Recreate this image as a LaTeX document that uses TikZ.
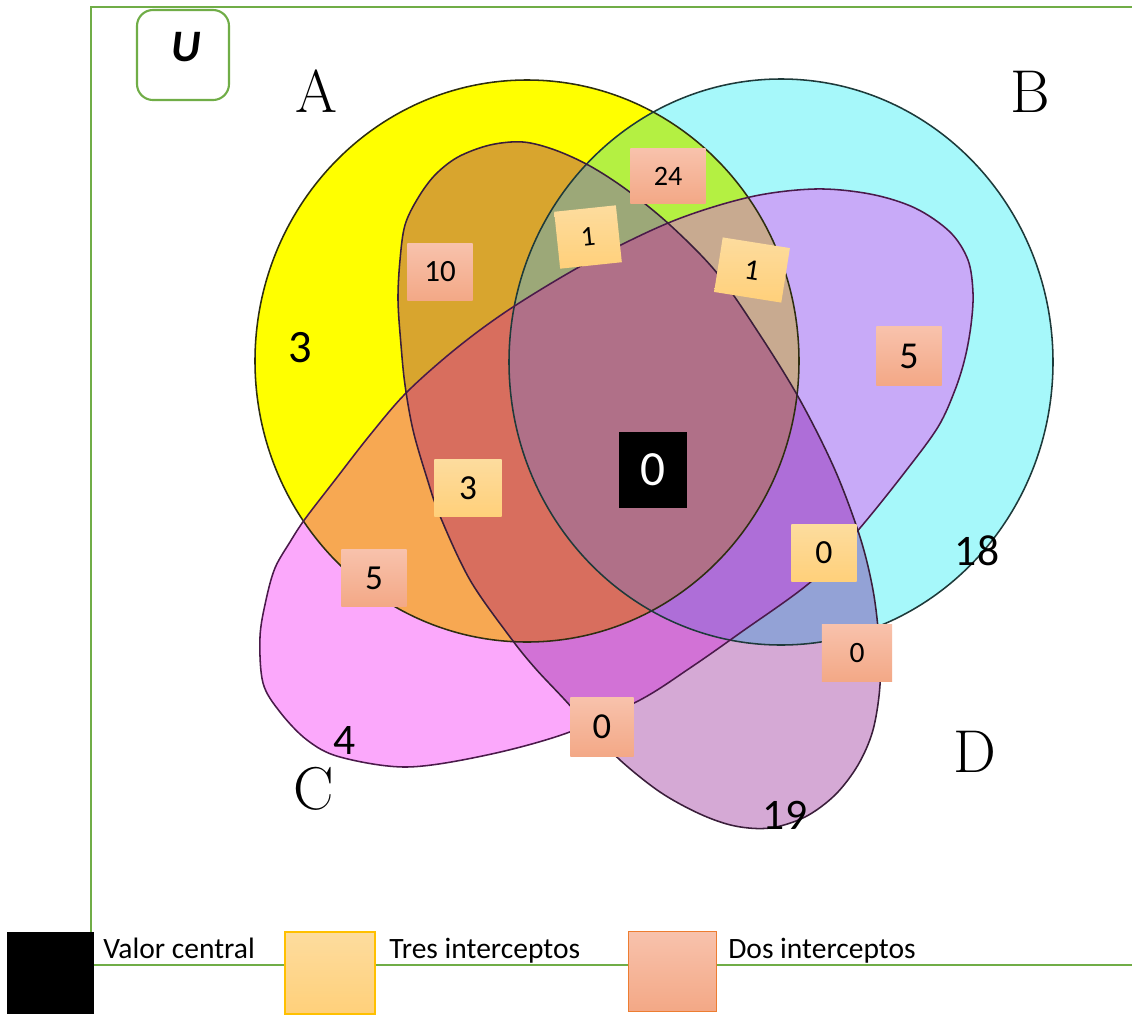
\documentclass[tikz,border=0pt]{standalone}
\usepackage{fontspec}
\newfontfamily\calf{Carlito}
\definecolor{cA}{HTML}{FFFF00}
\definecolor{cB}{HTML}{A6F8FA}
\definecolor{cC}{HTML}{FBA8FB}
\definecolor{cD}{HTML}{D5A9D5}
\definecolor{cAB}{HTML}{B4F042}
\definecolor{cAC}{HTML}{F7A852}
\definecolor{cAD}{HTML}{D8A52E}
\definecolor{cBC}{HTML}{C8AAF8}
\definecolor{cBD}{HTML}{93A2D6}
\definecolor{cCD}{HTML}{D272D6}
\definecolor{cABC}{HTML}{C8AA90}
\definecolor{cABD}{HTML}{9CA878}
\definecolor{cACD}{HTML}{D86E5E}
\definecolor{cBCD}{HTML}{AE6ED8}
\definecolor{cABCD}{HTML}{B07088}
\definecolor{frm}{HTML}{70AD47}
\definecolor{lnA}{HTML}{2E2E10}
\definecolor{lnB}{HTML}{1E3A3A}
\definecolor{lnC}{HTML}{4A1A4A}
\definecolor{lnD}{HTML}{3A1E3A}
\definecolor{tresT}{HTML}{FDDC9E}
\definecolor{tresB}{HTML}{FFD07A}
\definecolor{dosT}{HTML}{F8C2AC}
\definecolor{dosB}{HTML}{F3A886}
\definecolor{tresL}{HTML}{FFC000}
\definecolor{dosL}{HTML}{ED7D31}
\def\pathA{(527,361) ellipse [x radius=272, y radius=281]}
\def\pathB{(781,362) ellipse [x radius=272, y radius=283]}
\def\pathC{plot[smooth cycle, tension=0.55] coordinates {(260,637) (266,600) (275,568) (290,542) (305,519) (335,480) (370,435) (407,392) (458,347) (513,307) (590,261) (673,221) (750,197) (815,189) (870,194) (915,208) (950,232) (968,260) (973,293) (971,325) (965,358) (955,390) (938,427) (905,472) (860,528) (813,580) (740,633) (690,668) (640,700) (567,733) (487,755) (407,767) (340,757) (307,740) (280,712) (263,683)}}
\def\pathD{plot[smooth cycle, tension=0.55] coordinates {(398,300) (400,260) (405,225) (418,198) (435,175) (458,157) (490,145) (523,142) (555,150) (590,166) (627,190) (670,225) (717,273) (760,335) (800,400) (835,470) (860,537) (873,590) (879,640) (880,685) (873,730) (858,765) (835,795) (805,817) (770,828) (735,826) (700,814) (660,792) (620,760) (590,728) (565,700) (535,668) (510,637) (470,580) (440,516) (426,475) (413,430) (405,385) (401,345)}}
\tikzset{
  outl/.style={line width=1.1pt},
  numbox/.style={rectangle, inner sep=0pt},
  tres/.style={numbox, top color=tresT, bottom color=tresB},
  dos/.style={numbox, top color=dosT, bottom color=dosB},
  lbl/.style={inner sep=0pt, font=\fontsize{43}{43}\selectfont},
  big/.style={inner sep=0pt, font=\calf\fontsize{31}{31}\selectfont},
  leg/.style={inner sep=0pt, anchor=base west, font=\calf\fontsize{21}{25}\selectfont}
}
\begin{document}
\begin{tikzpicture}[x=0.025cm,y=-0.025cm]
\useasboundingbox (0,0) rectangle (1132,1014);
\fill[white] (0,0) rectangle (1132,1014);
% base fills
\fill[cA] \pathA;
\fill[cB] \pathB;
\fill[cC] \pathC;
\fill[cD] \pathD;
% pairs
\begin{scope}\clip \pathA; \fill[cAB] \pathB; \fill[cAC] \pathC; \fill[cAD] \pathD; \end{scope}
\begin{scope}\clip \pathB; \fill[cBC] \pathC; \fill[cBD] \pathD; \end{scope}
\begin{scope}\clip \pathC; \fill[cCD] \pathD; \end{scope}
% triples
\begin{scope}\clip \pathA; \clip \pathB; \fill[cABC] \pathC; \fill[cABD] \pathD; \end{scope}
\begin{scope}\clip \pathA; \clip \pathC; \fill[cACD] \pathD; \end{scope}
\begin{scope}\clip \pathB; \clip \pathC; \fill[cBCD] \pathD; \end{scope}
% all four
\begin{scope}\clip \pathA; \clip \pathB; \clip \pathC; \fill[cABCD] \pathD; \end{scope}
% outlines
\draw[outl, lnA] \pathA;
\draw[outl, lnB] \pathB;
\draw[outl, lnC] \pathC;
\draw[outl, lnD] \pathD;
% frame
\draw[frm, line width=1.6pt] (1132,7) -- (91,7) -- (91,965);
\draw[frm, line width=1.6pt] (91,965) -- (1132,965);
% universe box
\node[draw=frm, line width=1.5pt, rounded corners=0.4cm, minimum width=2.3cm, minimum height=2.25cm] (ubox) at (183,55) {};
\node[inner sep=0pt, font=\calf\bfseries\itshape\fontsize{32}{32}\selectfont] (utext) at (186,47) {U};
% set labels
\node[lbl] (la) at (316,91) {A};
\node[lbl] (lb) at (1030,92) {B};
\node[lbl] (lc) at (314,789) {C};
\node[lbl] (ld) at (975,752) {D};
% single-set numbers
\node[big, font=\calf\fontsize{33}{33}\selectfont] (nA) at (300,348) {3};
\node[big] (nB) at (977,551) {18};
\node[big] (nC) at (345,740) {4};
\node[big] (nD) at (785,815) {19};
% boxes
\node[dos, minimum width=1.88cm, minimum height=1.38cm, font=\calf\fontsize{20}{20}\selectfont] (n24) at (668,176) {24};
\node[tres, rotate=6, minimum width=1.55cm, minimum height=1.43cm, font=\calf\fontsize{20}{20}\selectfont] (n1a) at (588,237) {1};
\node[tres, rotate=-9, minimum width=1.7cm, minimum height=1.38cm, font=\calf\fontsize{21}{21}\selectfont] (n1b) at (752,270) {1};
\node[dos, minimum width=1.63cm, minimum height=1.43cm, font=\calf\fontsize{22}{22}\selectfont] (n10) at (440,272) {10};
\node[dos, minimum width=1.63cm, minimum height=1.45cm, font=\calf\fontsize{27}{27}\selectfont] (n5r) at (909,356) {5};
\node[tres, minimum width=1.68cm, minimum height=1.43cm, font=\calf\fontsize{25}{25}\selectfont] (n3b) at (468,488) {3};
\node[numbox, fill=black, text=white, minimum width=1.68cm, minimum height=1.88cm, font=\calf\fontsize{35}{35}\selectfont] (n0c) at (653,470) {0};
\node[dos, minimum width=1.63cm, minimum height=1.43cm, font=\calf\fontsize{25}{25}\selectfont] (n5l) at (374,578) {5};
\node[tres, minimum width=1.63cm, minimum height=1.43cm, font=\calf\fontsize{24}{24}\selectfont] (n0y) at (824,553) {0};
\node[dos, minimum width=1.75cm, minimum height=1.43cm, font=\calf\fontsize{21}{21}\selectfont] (n0s) at (857,653) {0};
\node[dos, minimum width=1.58cm, minimum height=1.48cm, font=\calf\fontsize{26}{26}\selectfont] (n0b) at (602,727) {0};
% legend
\node[numbox, fill=black, minimum width=2.18cm, minimum height=2.05cm] (kblack) at (50.5,973) {};
\node[numbox, draw=tresL, line width=0.8pt, top color=tresT, bottom color=tresB, minimum width=2.25cm, minimum height=2.05cm] (ktres) at (330,973) {};
\node[numbox, draw=dosL, line width=0.8pt, top color=dosT, bottom color=dosB, minimum width=2.22cm, minimum height=1.98cm] (kdos) at (672.5,971.5) {};
\node[leg] (t1) at (103,958) {Valor central};
\node[leg] (t2) at (389,958) {Tres interceptos};
\node[leg] (t3) at (728,958) {Dos interceptos};
\end{tikzpicture}
\end{document}
